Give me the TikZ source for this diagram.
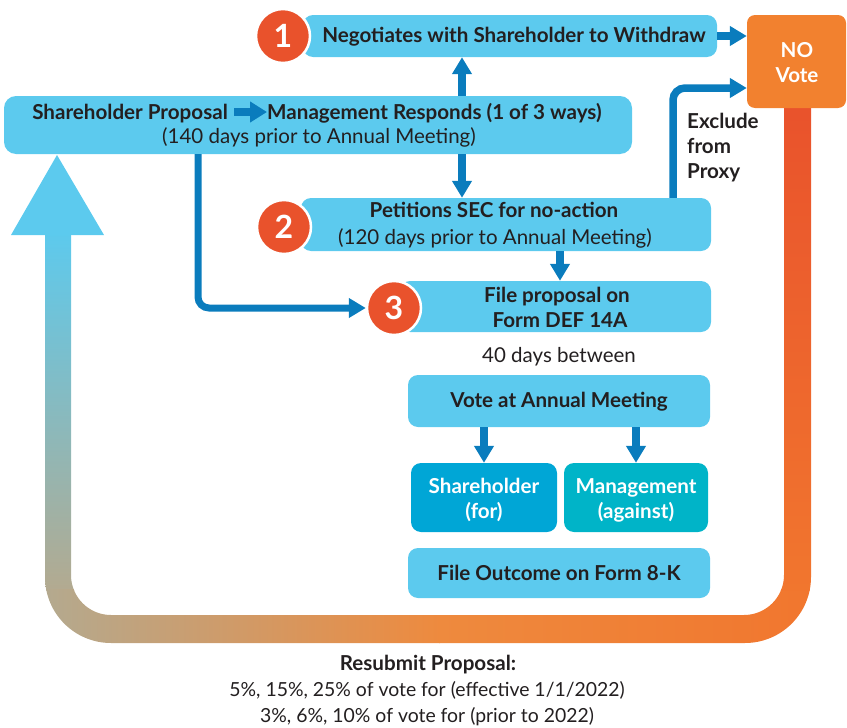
\documentclass[tikz,border=0pt]{standalone}
\usepackage{fontspec}
\setmainfont{Lato}
\usetikzlibrary{arrows.meta}
\definecolor{lblue}{HTML}{5CCAEE}
\definecolor{dblue}{HTML}{0A7CBD}
\definecolor{circ}{HTML}{E9522C}
\definecolor{novote}{HTML}{F2812F}
\definecolor{shb}{HTML}{00A6D6}
\definecolor{mgb}{HTML}{00B4C8}
\definecolor{txt}{HTML}{231F20}
\definecolor{tan}{HTML}{B3AA90}
\definecolor{midor}{HTML}{EE8A3E}
\definecolor{deepor}{HTML}{F1762E}
\begin{document}
\begin{tikzpicture}[x=1pt,y=-1pt,
  box/.style={fill=lblue, rounded corners=10pt, inner sep=0pt},
  lbl/.style={font=\fontsize{20.6}{24}\selectfont\bfseries, text=txt, inner sep=0pt, anchor=base},
  wlbl/.style={lbl, text=white},
  rlbl/.style={font=\fontsize{20.5}{24}\selectfont, text=txt, inner sep=0pt, anchor=base},
  blbl/.style={font=\fontsize{19.4}{23}\selectfont, text=txt, inner sep=0pt, anchor=base},
  num/.style={circle, fill=circ, draw=white, line width=2.5pt, minimum size=54pt, inner sep=0pt, text=white, font=\fontsize{32}{32}\selectfont\bfseries},
  conn/.style={draw=dblue, line width=7.5pt, -{Triangle[length=17pt,width=19pt]}},
]
\useasboundingbox (0,0) rectangle (847,728);

% gradient loop
\begin{scope}
\clip (45,235) -- (45,577) arc[start angle=180, end angle=90, radius=66] -- (745,643)
  arc[start angle=90, end angle=0, radius=66] -- (811,108) -- (784,108) -- (784,575)
  arc[start angle=0, end angle=90, radius=40] -- (111,615)
  arc[start angle=90, end angle=180, radius=40] -- (71,235) -- cycle;
\shade[top color=lblue, bottom color=tan] (40,230) rectangle (76,590);
\shade[left color=tan, right color=midor] (40,589) rectangle (440,650);
\shade[left color=midor, right color=deepor] (439,589) rectangle (816,650);
\shade[top color=circ, bottom color=deepor] (779,100) rectangle (816,590);
\end{scope}
\fill[lblue] (57,155) -- (104,235) -- (11,235) -- cycle;

% boxes
\node[box, minimum width=414pt, minimum height=42pt] (b1) at (510,36) {};
\node[fill=novote, rounded corners=8pt, minimum width=99pt, minimum height=93pt, inner sep=0pt] (nv) at (796.5,61.5) {};
\node[box, minimum width=628pt, minimum height=58pt, rounded corners=12pt] (main) at (318,125) {};
\node[box, minimum width=410pt, minimum height=53pt] (b2) at (506,224.5) {};
\node[box, minimum width=311pt, minimum height=51pt] (b3) at (555.5,306.5) {};
\node[box, minimum width=302pt, minimum height=52pt] (vote) at (559,401) {};
\node[fill=shb, rounded corners=10pt, minimum width=146pt, minimum height=69pt, inner sep=0pt] (sh) at (484,497.5) {};
\node[fill=mgb, rounded corners=10pt, minimum width=144pt, minimum height=69pt, inner sep=0pt] (mg) at (636,497.5) {};
\node[box, minimum width=302pt, minimum height=50pt] (out) at (559,573) {};

% circles
\node[num] (c1) at (283,36) {1};
\node[num] (c2) at (284,227) {2};
\node[num] (c3) at (394,308) {3};

% texts
\node[lbl] (t1) at (514,42) {Negotiates with Shareholder to Withdraw};
\node[wlbl] (no1) at (797,57) {NO};
\node[wlbl] (no2) at (797,82) {Vote};
\node[lbl, anchor=base east] (sp) at (228,119) {Shareholder Proposal};
\node[lbl, anchor=base west] (mr) at (267,119) {Management Responds (1 of 3 ways)};
\node[rlbl] (m2) at (319,143) {(140 days prior to Annual Meeting)};
\node[lbl] (p1) at (494,217) {Petitions SEC for no-action};
\node[rlbl] (p2) at (495,244) {(120 days prior to Annual Meeting)};
\node[lbl] (f1) at (557,302) {File proposal on};
\node[lbl] (f2) at (560,327) {Form DEF 14A};
\node[rlbl] (d40) at (559,362) {40 days between};
\node[lbl] (vt) at (559,407) {Vote at Annual Meeting};
\node[wlbl] (s1) at (484,493) {Shareholder};
\node[wlbl] (s2) at (484,518) {(for)};
\node[wlbl] (g1) at (636,493) {Management};
\node[wlbl] (g2) at (636,518) {(against)};
\node[lbl] (o1) at (559,580) {File Outcome on Form 8-K};
\node[lbl, anchor=base west] (e1) at (687,128) {Exclude};
\node[lbl, anchor=base west] (e2) at (687,153) {from};
\node[lbl, anchor=base west] (e3) at (687,178) {Proxy};
\node[lbl] (r1) at (428,670) {Resubmit Proposal:};
\node[blbl] (r2) at (427,696) {5\%, 15\%, 25\% of vote for (effective 1/1/2022)};
\node[blbl] (r3) at (427,722) {3\%, 6\%, 10\% of vote for (prior to 2022)};

% connectors
\coordinate (vx) at (462,0);
\coordinate (v2) at (560,0);
\coordinate (v3) at (198,0);
\coordinate (v4) at (673,0);
\coordinate (exy) at (0,88);
\draw[conn] (b1.east) -- (b1.east -| nv.west);
\draw[conn, line width=8pt, -{Triangle[length=17pt,width=20pt]}, shorten <=6pt] (sp.east |- 0,112) -- (mr.west |- 0,112);
\draw[conn] (vx |- main.north) -- (vx |- b1.south);
\draw[conn] (vx |- main.south) -- (vx |- b2.north);
\draw[conn] (v2 |- b2.south) -- (v2 |- b3.north);
\draw[conn, line width=7pt, rounded corners=11pt] (v3 |- main.south) |- (c3.west);
\draw[conn, rounded corners=12pt] (v4 |- b2.north) |- (exy -| nv.west);
\draw[conn] (vote.south -| sh.north) -- (sh.north);
\draw[conn] (vote.south -| mg.north) -- (mg.north);
\end{tikzpicture}
\end{document}
